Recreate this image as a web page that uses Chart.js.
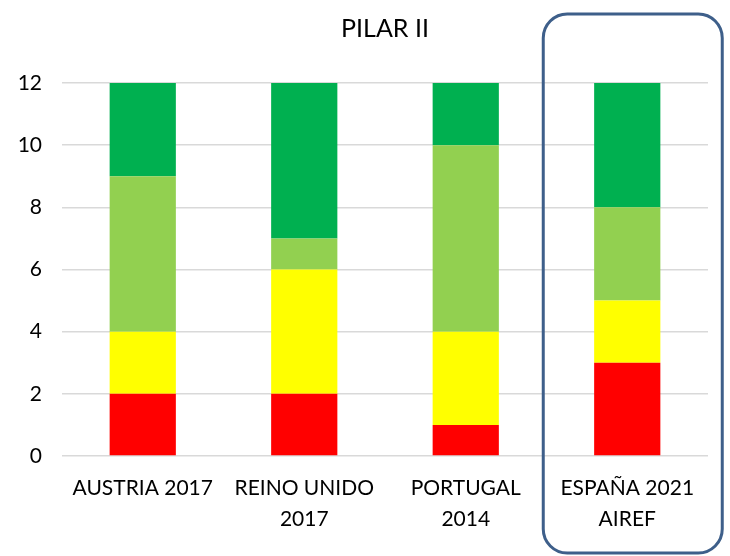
<!DOCTYPE html>
<html>
<head>
<meta charset="utf-8">
<script src="https://cdn.jsdelivr.net/npm/chart.js@4/dist/chart.umd.min.js"></script>
<style>
  html, body { margin: 0; padding: 0; background: #fff; }
  #wrap { width: 730px; height: 556px; position: relative; }
</style>
</head>
<body>
<div id="wrap"><canvas id="chart"></canvas></div>
<script>
// ─── Data ───────────────────────────────────────────────────────────────────

const categories = [
  'AUSTRIA 2017',
  ['REINO UNIDO', '2017'],
  ['PORTUGAL', '2014'],
  ['ESPAÑA 2021', 'AIREF']
];

const redValues = [2, 2, 1, 3];
const yellowValues = [2, 4, 3, 2];
const lightGreenValues = [5, 1, 6, 3];
const greenValues = [3, 5, 2, 4];

const yTicks = [0, 2, 4, 6, 8, 10, 12];

const FONT = 'Lato, "Open Sans", sans-serif';

// ─── Highlight box around the last category ─────────────────────────────────

const highlightBox = {
  id: 'highlightBox',
  afterDraw(chart) {
    const ctx = chart.ctx;
    const cx = chart.scales.x.getPixelForValue(categories.length - 1);
    const left = cx - 84;
    const right = cx + 95;
    const top = 14;
    const bottom = 553;
    ctx.save();
    ctx.strokeStyle = '#3E5F8A';
    ctx.lineWidth = 3;
    ctx.beginPath();
    ctx.roundRect(left, top, right - left, bottom - top, 24);
    ctx.stroke();
    ctx.restore();
  }
};

// ─── Chart ──────────────────────────────────────────────────────────────────

const ds = (data, color) => ({
  data,
  backgroundColor: color,
  borderWidth: 0,
  barPercentage: 0.41,
  categoryPercentage: 1
});

new Chart(document.getElementById('chart'), {
  type: 'bar',
  data: {
    labels: categories,
    datasets: [
      ds(redValues, '#FF0000'),
      ds(yellowValues, '#FFFF00'),
      ds(lightGreenValues, '#92D050'),
      ds(greenValues, '#00B050')
    ]
  },
  plugins: [highlightBox],
  options: {
    responsive: true,
    maintainAspectRatio: false,
    animation: false,
    layout: { padding: { left: 18, right: 22, top: 0, bottom: 5 } },
    plugins: {
      legend: { display: false },
      tooltip: { enabled: false },
      title: {
        display: true,
        text: 'PILAR II',
        fullSize: false,
        color: '#000',
        font: { family: FONT, size: 25, weight: 'normal', lineHeight: 1.2 },
        padding: { top: 14, bottom: 39 }
      }
    },
    scales: {
      x: {
        stacked: true,
        grid: { display: false, drawTicks: false },
        border: { display: false },
        ticks: {
          color: '#000',
          font: { family: FONT, size: 21, lineHeight: 1.5 },
          padding: 16,
          maxRotation: 0,
          autoSkip: false
        }
      },
      y: {
        stacked: true,
        min: 0,
        max: 12,
        afterBuildTicks: (axis) => { axis.ticks = yTicks.map(v => ({ value: v })); },
        afterFit: (axis) => { axis.width = 44; },
        grid: { color: '#D9D9D9', lineWidth: 1.5, drawTicks: false },
        border: { display: false },
        ticks: {
          color: '#000',
          font: { family: FONT, size: 21 },
          padding: 20
        }
      }
    }
  }
});
</script>
</body>
</html>
